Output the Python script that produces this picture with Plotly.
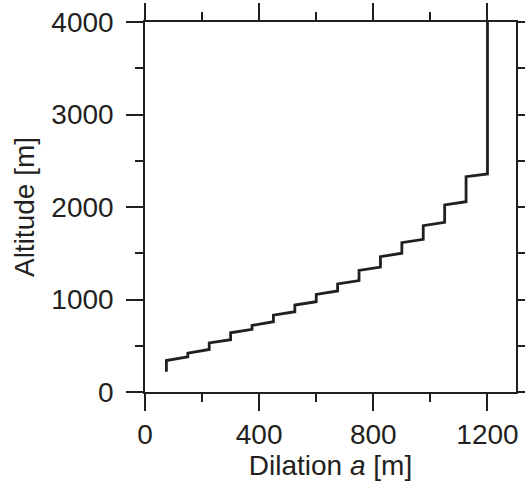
import plotly.graph_objects as go

# Step positions (dilation a, m) and altitude at the lower/upper end of each step
step_x = [75, 150, 225, 300, 375, 450, 525, 600, 675, 750, 825, 900, 975, 1050, 1125, 1200]
alt_lower = [220, 380, 460, 565, 678, 760, 868, 976, 1092, 1205, 1350, 1500, 1650, 1834, 2057, 2357]
alt_upper = [340, 420, 530, 640, 720, 830, 940, 1055, 1168, 1315, 1463, 1614, 1798, 2022, 2328, 4000]

xs, ys = [], []
for x, lo, hi in zip(step_x, alt_lower, alt_upper):
    xs += [x, x]
    ys += [lo, hi]

ink = "#231f20"
font = dict(family="Liberation Sans, Arial, sans-serif", size=28, color=ink)

fig = go.Figure()
fig.add_trace(go.Scatter(x=xs, y=ys, mode="lines",
                         line=dict(color=ink, width=2.8), hoverinfo="skip",
                         showlegend=False, cliponaxis=True))

fig.update_layout(
    width=525, height=488,
    margin=dict(l=145, r=9, t=22, b=96),
    paper_bgcolor="white", plot_bgcolor="white",
    font=font,
    showlegend=False,
)
fig.update_xaxes(
    range=[0, 1300], tickvals=[0, 400, 800, 1200],
    ticks="outside", ticklen=17, tickwidth=1.5, tickcolor=ink,
    minor=dict(tickvals=[200, 600, 1000], ticks="outside", ticklen=8, tickwidth=1.5, tickcolor=ink, showgrid=False),
    showline=True, linewidth=1.5, linecolor=ink, mirror="allticks",
    showgrid=False, zeroline=False, automargin=False,
    title=dict(text="Dilation <i>a</i> [m]", font=font, standoff=2),
    tickfont=font,
)
fig.update_yaxes(
    range=[0, 4000], tickvals=[0, 1000, 2000, 3000, 4000],
    ticks="outside", ticklen=17, tickwidth=1.5, tickcolor=ink,
    minor=dict(tickvals=[500, 1500, 2500, 3500], ticks="outside", ticklen=8, tickwidth=1.5, tickcolor=ink, showgrid=False),
    showline=True, linewidth=1.5, linecolor=ink, mirror="allticks",
    showgrid=False, zeroline=False, automargin=False,
    ticklabelstandoff=7,
    title=dict(text="Altitude [m]", font=font, standoff=9),
    tickfont=font,
)

fig.write_html("out.html")
